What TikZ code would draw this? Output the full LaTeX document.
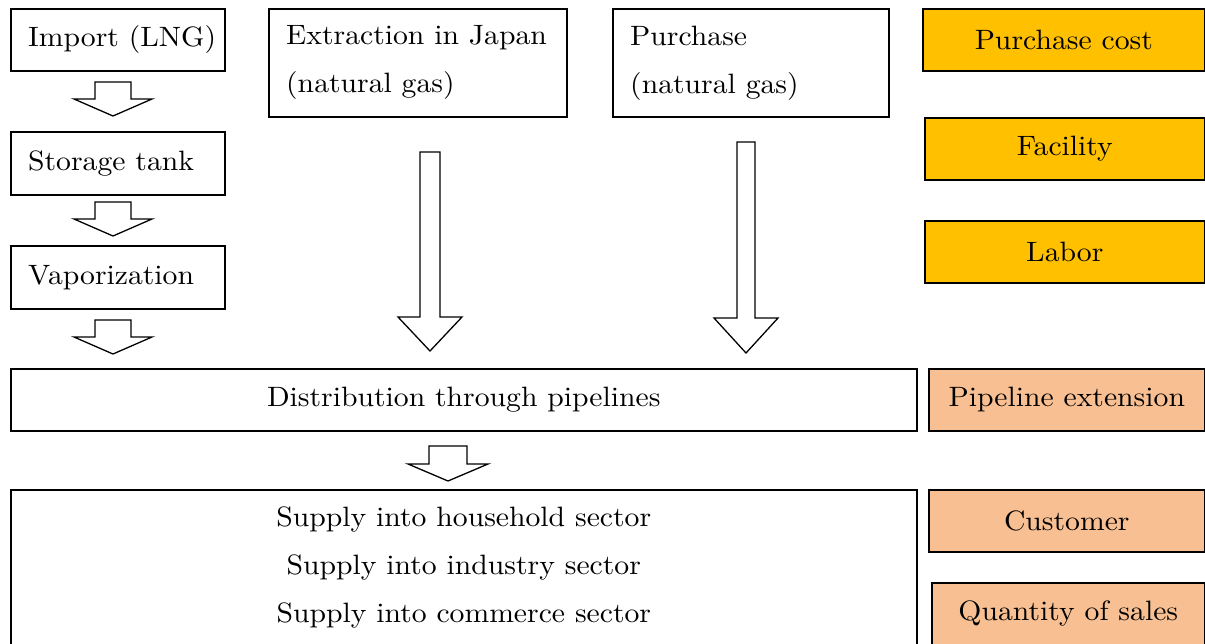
\documentclass[tikz,border=0pt]{standalone}
\usepackage{fontspec}
\setmainfont{lmroman10-regular}[Extension=.otf, FakeStretch=1.06]
\usepackage{tikz}
\definecolor{gold}{RGB}{255,192,0}
\definecolor{peach}{RGB}{248,192,146}
\newcommand{\blockarrow}[7]{%
  % #1 name, #2 center x, #3 top y, #4 shaft half, #5 head half, #6 head y, #7 tip y
  \draw[blockarr] (#2-#4,#3) -- (#2+#4,#3) -- (#2+#4,#6) -- (#2+#5,#6) -- (#2,#7) -- (#2-#5,#6) -- (#2-#4,#6) -- cycle;
  \coordinate (#1) at (#2,#7);
}
\begin{document}
\begin{tikzpicture}[x=1pt,y=-1pt,
  every node/.style={font=\fontsize{28}{48}\selectfont},
  box/.style={draw, line width=1.6pt, anchor=north west, inner sep=0pt},
  lbl/.style={anchor=west, align=left, inner sep=0pt, xshift=18pt},
  centerbox/.style={box, align=center},
  goldbox/.style={centerbox, fill=gold},
  peachbox/.style={centerbox, fill=peach},
  blockarr/.style={draw, line width=1.3pt, fill=white, line join=miter}]
\useasboundingbox (0,0) rectangle (1205,643);
\begin{scope}
\clip (0,0) rectangle (1205,643);
% left column
\node[box, minimum width=214pt, minimum height=62pt] (imp) at (10,8) {};
\node[lbl] (impt) at (imp.west) {Import (LNG)};
\node[box, minimum width=214pt, minimum height=63pt] (tank) at (10,131) {};
\node[lbl] (tankt) at (tank.west) {Storage tank};
\node[box, minimum width=214pt, minimum height=63pt] (vap) at (10,245) {};
\node[lbl] (vapt) at (vap.west) {Vaporization};
% middle boxes
\node[box, minimum width=298pt, minimum height=108pt] (ext) at (268,8) {};
\node[lbl] (extt) at (ext.west) {Extraction in Japan\\(natural gas)};
\node[box, minimum width=276pt, minimum height=108pt] (pur) at (612,8) {};
\node[lbl] (purt) at (pur.west) {Purchase\\(natural gas)};
% wide boxes
\node[centerbox, minimum width=906pt, minimum height=62pt] (dist) at (10,368) {Distribution through pipelines};
\node[centerbox, minimum width=906pt, minimum height=156pt] (sup) at (10,489) {Supply into household sector\\Supply into industry sector\\Supply into commerce sector};
% right column
\node[goldbox, minimum width=282pt, minimum height=62pt] (cost) at (922,8) {Purchase cost};
\node[goldbox, minimum width=280pt, minimum height=62pt] (fac) at (924,117) {Facility};
\node[goldbox, minimum width=280pt, minimum height=62pt] (lab) at (924,220) {Labor};
\node[peachbox, minimum width=276pt, minimum height=62pt] (pipe) at (928,368) {Pipeline extension};
\node[peachbox, minimum width=276pt, minimum height=62pt] (cust) at (928,489) {Customer};
\node[peachbox, minimum width=273pt, minimum height=62pt] (qty) at (931,582) {Quantity of sales};
% block arrows
\blockarrow{a1}{113}{82}{18}{39}{99}{116}
\blockarrow{a2}{113}{202}{18}{39}{219}{236}
\blockarrow{a3}{113}{320}{18}{39}{337}{354}
\blockarrow{a4}{430}{152}{10}{32}{317}{351}
\blockarrow{a5}{746}{142}{9}{32}{318}{353}
\blockarrow{a6}{448}{446}{19}{40}{464}{481}
\end{scope}
\end{tikzpicture}
\end{document}
